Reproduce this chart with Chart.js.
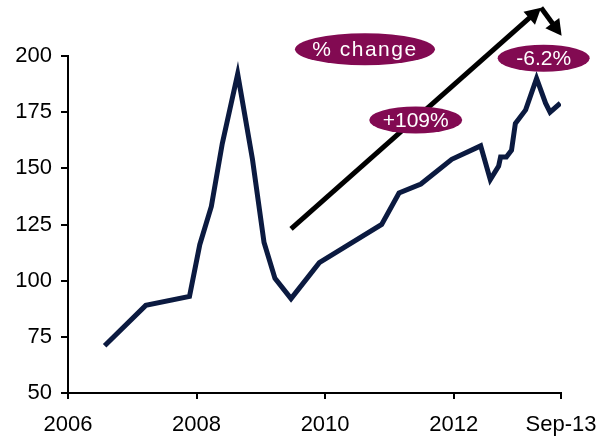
<!DOCTYPE html>
<html>
<head>
<meta charset="utf-8">
<script src="https://cdn.jsdelivr.net/npm/chart.js@4"></script>
<style>
  html, body { margin: 0; padding: 0; background: #fff; }
  #wrap { width: 603px; height: 440px; }
</style>
</head>
<body>
<div id="wrap"><canvas id="chart" width="603" height="440"></canvas></div>
<script>
// decimal years and index values
const years = [2006.57, 2007.21, 2007.89, 2008.05, 2008.23, 2008.40, 2008.64, 2008.87, 2009.05, 2009.22, 2009.47,
  2009.91, 2010.88, 2011.15, 2011.49, 2011.97, 2012.42, 2012.57, 2012.70, 2012.73, 2012.82, 2012.90, 2012.96,
  2013.12, 2013.29, 2013.43, 2013.50, 2013.66];
const values = [71, 89, 93, 116, 133, 161, 192, 154, 117, 101, 92,
  108, 125, 139, 143, 154, 160, 145, 151, 155, 155, 158, 170,
  176, 190, 179, 175, 179];

const xTickValues = [2006, 2008, 2010, 2012, 2013.67];
const xTickLabels = ["2006", "2008", "2010", "2012", "Sep-13"];
const yTicks = [50, 75, 100, 125, 150, 175, 200];

// callouts, placed in data units
const bubbles = [
  { text: "% change", x: 2010.62, y: 203, w: 140, h: 32, spacing: 1.5 },
  { text: "+109%", x: 2011.41, y: 171.5, w: 93, h: 27, spacing: 0 },
  { text: "-6.2%", x: 2013.40, y: 199, w: 92, h: 27, spacing: 0 }
];
// arrows: [fromX, fromY, toX, toY]
const arrows = [[2009.47, 123, 2013.36, 221.5], [2013.36, 221.5, 2013.68, 209]];

const MAROON = "#820a52";
const NAVY = "#0b1a40";
const FONT = "'Liberation Sans', Arial, sans-serif";

const overlay = {
  id: "overlay",
  afterDraw(chart) {
    const { ctx, scales: { x, y } } = chart;
    ctx.save();
    ctx.strokeStyle = "#000";
    ctx.fillStyle = "#000";
    ctx.lineWidth = 5;
    arrows.forEach(([x0, y0, x1, y1]) => {
      const ax = x.getPixelForValue(x0), ay = y.getPixelForValue(y0);
      const bx = x.getPixelForValue(x1), by = y.getPixelForValue(y1);
      const ang = Math.atan2(by - ay, bx - ax);
      const head = 18;
      ctx.beginPath();
      ctx.moveTo(ax, ay);
      ctx.lineTo(bx - Math.cos(ang) * head * 0.8, by - Math.sin(ang) * head * 0.8);
      ctx.stroke();
      ctx.beginPath();
      ctx.moveTo(bx, by);
      ctx.lineTo(bx - head * Math.cos(ang - 0.5), by - head * Math.sin(ang - 0.5));
      ctx.lineTo(bx - head * Math.cos(ang + 0.5), by - head * Math.sin(ang + 0.5));
      ctx.closePath();
      ctx.fill();
    });
    ctx.font = "21px " + FONT;
    ctx.textAlign = "center";
    ctx.textBaseline = "middle";
    bubbles.forEach(b => {
      const cx = x.getPixelForValue(b.x), cy = y.getPixelForValue(b.y);
      ctx.fillStyle = MAROON;
      ctx.beginPath();
      ctx.ellipse(cx, cy, b.w / 2, b.h / 2, 0, 0, Math.PI * 2);
      ctx.fill();
      ctx.fillStyle = "#fff";
      ctx.letterSpacing = b.spacing + "px";
      ctx.fillText(b.text, cx, cy + 1);
    });
    ctx.restore();
  }
};

new Chart(document.getElementById("chart"), {
  type: "line",
  data: {
    datasets: [{
      data: years.map((yr, i) => ({ x: yr, y: values[i] })),
      borderColor: NAVY,
      borderWidth: 5,
      pointRadius: 0,
      tension: 0,
      fill: false
    }]
  },
  options: {
    responsive: false,
    animation: false,
    layout: { padding: { top: 56, right: 42, left: 0, bottom: 0 } },
    plugins: { legend: { display: false }, tooltip: { enabled: false } },
    scales: {
      x: {
        type: "linear",
        min: 2006,
        max: 2013.67,
        afterBuildTicks: s => { s.ticks = xTickValues.map(v => ({ value: v })); },
        afterFit: s => { s.height = 47; s.paddingLeft = 0; s.paddingRight = 0; },
        ticks: {
          autoSkip: false,
          maxRotation: 0,
          color: "#000",
          padding: 13,
          font: { family: FONT, size: 22 },
          callback: v => xTickLabels[xTickValues.indexOf(v)]
        },
        grid: { drawOnChartArea: false, drawTicks: true, tickLength: 6, color: "#000", lineWidth: 2 },
        border: { display: true, color: "#000", width: 2 }
      },
      y: {
        min: 50,
        max: 200,
        afterBuildTicks: s => { s.ticks = yTicks.map(v => ({ value: v })); },
        afterFit: s => { s.width = 68; s.paddingTop = 0; s.paddingBottom = 0; },
        ticks: {
          color: "#000",
          padding: 9,
          font: { family: FONT, size: 22 }
        },
        grid: { drawOnChartArea: false, drawTicks: true, tickLength: 7, color: "#000", lineWidth: 2 },
        border: { display: true, color: "#000", width: 2 }
      }
    }
  },
  plugins: [overlay]
});
</script>
</body>
</html>
